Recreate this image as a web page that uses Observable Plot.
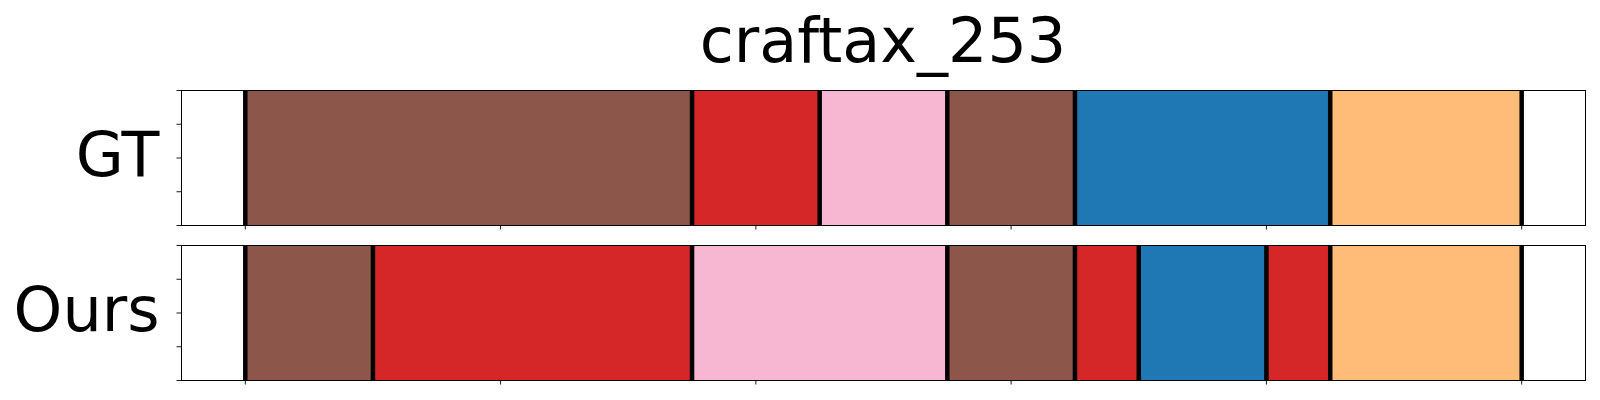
<!DOCTYPE html>
<html>
<head>
<meta charset="utf-8">
<script src="https://cdn.jsdelivr.net/npm/d3@7"></script>
<script src="https://cdn.jsdelivr.net/npm/@observablehq/plot@0.6"></script>
<style>
  html, body { margin: 0; padding: 0; background: #fff; }
  #wrap { position: relative; width: 1600px; height: 400px; font-family: "DejaVu Sans", sans-serif; }
  #title { position: absolute; left: 181px; width: 1404px; top: 10px; text-align: center;
           font-size: 62px; line-height: 1; color: #000; }
  .panel { position: absolute; left: 0; }
</style>
</head>
<body>
<div id="wrap">
  <div id="title">craftax_253</div>
  <div id="gt" class="panel" style="top:80px"></div>
  <div id="ours" class="panel" style="top:235px"></div>
</div>
<script>
// Segment boundaries (time steps) and class of each segment
const gtBounds = [0, 87.5, 112.5, 137.5, 162.5, 212.5, 250];
const gtClasses = ["class 10", "class 6", "class 13", "class 10", "class 0", "class 3"];
const oursBounds = [0, 25, 87.5, 137.5, 162.5, 175, 200, 212.5, 250];
const oursClasses = ["class 10", "class 6", "class 13", "class 10", "class 6", "class 0", "class 6", "class 3"];
const rowLabels = ["GT", "Ours"];
const xTicks = [0, 50, 100, 150, 200, 250];
const yTicks = [0, 0.25, 0.5, 0.75, 1];

const classDomain = ["class 0", "class 3", "class 6", "class 10", "class 13"];
const classColors = ["#1f77b4", "#ffbb78", "#d62728", "#8c564b", "#f7b6d2"];

function segments(bounds, classes) {
  return classes.map((c, i) => ({x1: bounds[i], x2: bounds[i + 1], cls: c}));
}

function panel(bounds, classes, label) {
  return Plot.plot({
    width: 1600,
    height: 155,
    marginLeft: 181,
    marginRight: 15,
    marginTop: 10,
    marginBottom: 10,
    style: {fontFamily: "DejaVu Sans, sans-serif", background: "#fff", overflow: "visible"},
    x: {domain: [-12.5, 262.5], axis: null},
    y: {domain: [0, 1], axis: null},
    color: {type: "ordinal", domain: classDomain, range: classColors},
    marks: [
      Plot.rect(segments(bounds, classes), {x1: "x1", x2: "x2", y1: 0, y2: 1, fill: "cls"}),
      Plot.ruleX(bounds, {stroke: "#000", strokeWidth: 4.5}),
      Plot.frame({stroke: "#000", strokeWidth: 1}),
      Plot.axisX(xTicks, {anchor: "bottom", tickSize: 4.5, tickFormat: () => "", stroke: "#000", strokeWidth: 0.9, label: null}),
      Plot.axisY(yTicks, {anchor: "left", tickSize: 4.5, tickFormat: () => "", stroke: "#000", strokeWidth: 0.9, label: null}),
      Plot.text([label], {frameAnchor: "left", text: d => d, textAnchor: "end", dx: -22, dy: -2,
                          fontSize: 62, fill: "#000"})
    ]
  });
}

document.getElementById("gt").appendChild(panel(gtBounds, gtClasses, rowLabels[0]));
document.getElementById("ours").appendChild(panel(oursBounds, oursClasses, rowLabels[1]));
</script>
</body>
</html>
